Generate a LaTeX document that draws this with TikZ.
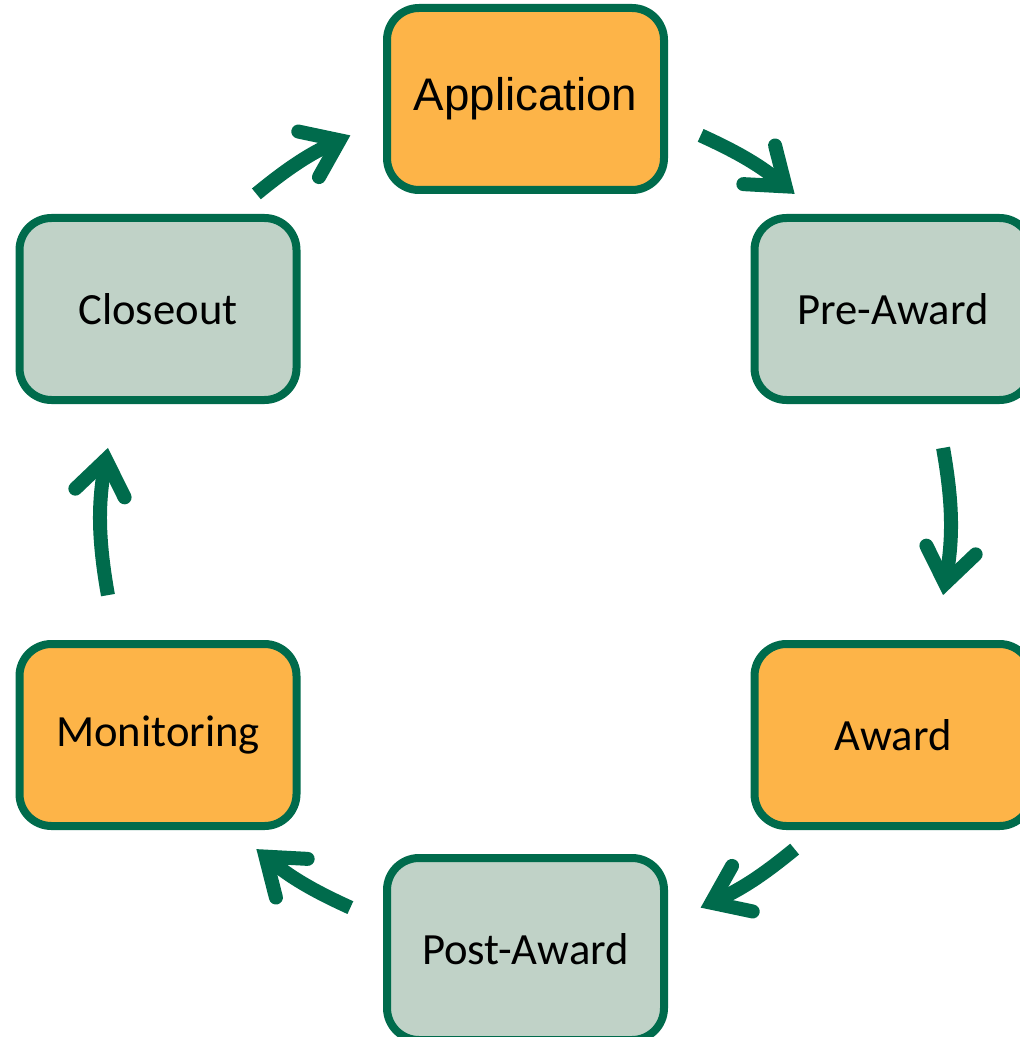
\documentclass[tikz,border=0pt]{standalone}
\usepackage{fontspec}
\setmainfont{Carlito}
\newfontfamily\arialfont{Liberation Sans}
\usetikzlibrary{arrows.meta}
\definecolor{cyclegreen}{RGB}{0,107,76}
\definecolor{stageorange}{RGB}{253,180,72}
\definecolor{stagegrey}{RGB}{192,210,199}

\begin{document}
\begin{tikzpicture}[
		stage/.style={draw=cyclegreen,line width=0.08cm,rounded corners=0.32cm,
			minimum width=2.77cm,minimum height=1.82cm,inner sep=0pt,
			font=\fontsize{12.7}{15}\selectfont},
		flow/.style={draw=cyclegreen,line width=0.14cm,
			-{Straight Barb[length=0.34cm,width=0.5cm,line cap=round]}}
	]
		\useasboundingbox (0,0) rectangle (10.20,-10.37);
		% stages of the cycle
		\node[stage,fill=stageorange,font=\arialfont\fontsize{13}{15}\selectfont] (app) at (5.255,-0.99) {Application};
		\node[stage,fill=stagegrey] (pre) at (8.93,-3.09) {Pre-Award};
		\node[stage,fill=stageorange] (awd) at (8.93,-7.35) {Award};
		\node[stage,fill=stagegrey] (post) at (5.255,-9.49) {Post-Award};
		\node[stage,fill=stageorange] (mon) at (1.58,-7.35) {Monitoring};
		\node[stage,fill=stagegrey] (clo) at (1.58,-3.09) {Closeout};
		% arrows on a circle round the middle
		\coordinate (o) at (5.255,-5.215);
		\foreach \n/\a in {clo-s/129.4,clo-e/114.4,app-s/65.6,app-e/50.6,
			pre-s/10,pre-e/-10,awd-s/-50.6,awd-e/-65.6,
			post-s/-114.4,post-e/-129.4,mon-s/190,mon-e/170}
		\coordinate (\n) at ([shift={(\a:4.24)}]o);
		\draw[flow] (clo-s) to[bend left=7.5] (clo-e);
		\draw[flow] (app-s) to[bend left=7.5] (app-e);
		\draw[flow] (pre-s) to[bend left=10] (pre-e);
		\draw[flow] (awd-s) to[bend left=7.5] (awd-e);
		\draw[flow] (post-s) to[bend left=7.5] (post-e);
		\draw[flow] (mon-s) to[bend left=10] (mon-e);
	\end{tikzpicture}
\end{document}
